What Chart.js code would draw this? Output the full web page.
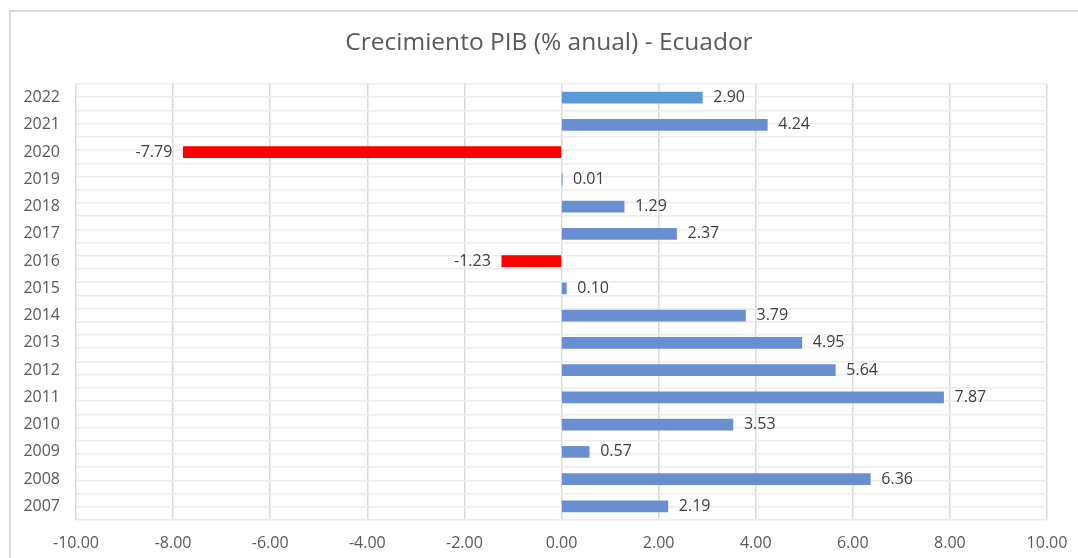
<!DOCTYPE html>
<html>
<head>
<meta charset="utf-8">
<script src="https://cdn.jsdelivr.net/npm/chart.js@4.4.1/dist/chart.umd.min.js"></script>
<style>
    body { margin: 0; background: #fff; }
    #wrap { position: relative; width: 1078px; height: 558px; }
    #frame {
        position: absolute; left: 9px; top: 10px; right: 0; bottom: 0;
        border-top: 2px solid #d9d9d9; border-left: 2px solid #d9d9d9;
        pointer-events: none;
    }
</style>
</head>
<body>
<div id="wrap">
    <canvas id="pibChart" width="1078" height="558"></canvas>
    <div id="frame"></div>
</div>
<script>
// Data
const years = ['2007', '2008', '2009', '2010', '2011', '2012', '2013', '2014',
               '2015', '2016', '2017', '2018', '2019', '2020', '2021', '2022'];
const growth = [2.19, 6.36, 0.57, 3.53, 7.87, 5.64, 4.95, 3.79,
                0.10, -1.23, 2.37, 1.29, 0.01, -7.79, 4.24, 2.90];
const xTicks = [-10, -8, -6, -4, -2, 0, 2, 4, 6, 8, 10];
const chartTitle = 'Crecimiento PIB (% anual) - Ecuador';

const FONT = "'Open Sans', sans-serif";
const TEXT = '#595959';

// Bar colours: red for negatives, lighter blue for the last year
const barColors = growth.map((v, i) => {
    if (v < 0) return '#ff0000';
    if (i === growth.length - 1) return '#5b9bd5';
    return '#6a8fd0';
});

// Title, centred on the chart frame rather than the canvas
const titlePlugin = {
    id: 'frameTitle',
    afterDraw(chart) {
        const ctx = chart.ctx;
        ctx.save();
        ctx.font = '24.5px ' + FONT;
        ctx.fillStyle = TEXT;
        ctx.textAlign = 'center';
        ctx.textBaseline = 'middle';
        ctx.fillText(chartTitle, 549, 43);
        ctx.restore();
    }
};

// Value labels at the end of each bar
const valueLabels = {
    id: 'valueLabels',
    afterDatasetsDraw(chart) {
        const ctx = chart.ctx;
        const meta = chart.getDatasetMeta(0);
        ctx.save();
        ctx.font = '16px ' + FONT;
        ctx.fillStyle = '#404040';
        ctx.textBaseline = 'middle';
        meta.data.forEach((bar, i) => {
            const v = growth[i];
            if (v < 0) {
                ctx.textAlign = 'right';
                ctx.fillText(v.toFixed(2), bar.x - 11, bar.y);
            } else {
                ctx.textAlign = 'left';
                ctx.fillText(v.toFixed(2), bar.x + 11, bar.y);
            }
        });
        ctx.restore();
    }
};

const ctx = document.getElementById('pibChart').getContext('2d');
new Chart(ctx, {
    type: 'bar',
    data: {
        labels: years,
        datasets: [{
            data: growth,
            backgroundColor: barColors,
            barThickness: 11,
            yAxisID: 'y'
        }]
    },
    options: {
        indexAxis: 'y',
        responsive: false,
        animation: false,
        layout: { padding: { left: 10, right: 31, top: 84, bottom: 0 } },
        plugins: {
            legend: { display: false },
            tooltip: { enabled: false },
            title: { display: false }
        },
        scales: {
            x: {
                min: -10,
                max: 10,
                afterBuildTicks: (scale) => { scale.ticks = xTicks.map(v => ({ value: v })); },
                ticks: {
                    color: TEXT,
                    font: { family: FONT, size: 16 },
                    padding: 14,
                    maxRotation: 0,
                    callback: (v) => Number(v).toFixed(2)
                },
                grid: { color: '#d9d9d9', lineWidth: 1.5, drawTicks: false },
                border: { display: false },
                afterFit: (scale) => {
                    scale.height = 38;
                    scale.paddingLeft = 0;
                    scale.paddingRight = 0;
                }
            },
            y: {
                reverse: true,
                ticks: {
                    color: TEXT,
                    font: { family: FONT, size: 16 },
                    padding: 8
                },
                grid: { display: false },
                border: { display: false },
                afterFit: (scale) => { scale.width = 66; }
            },
            // grid only: lines at each category centre and boundary
            yGrid: {
                type: 'linear',
                position: 'left',
                min: -0.5,
                max: years.length - 0.5,
                ticks: { display: false, stepSize: 0.5, maxTicksLimit: 100 },
                grid: { color: '#ececec', lineWidth: 1.5, drawTicks: false },
                border: { display: false },
                afterFit: (scale) => { scale.width = 0; }
            }
        }
    },
    plugins: [valueLabels, titlePlugin]
});
</script>
</body>
</html>
